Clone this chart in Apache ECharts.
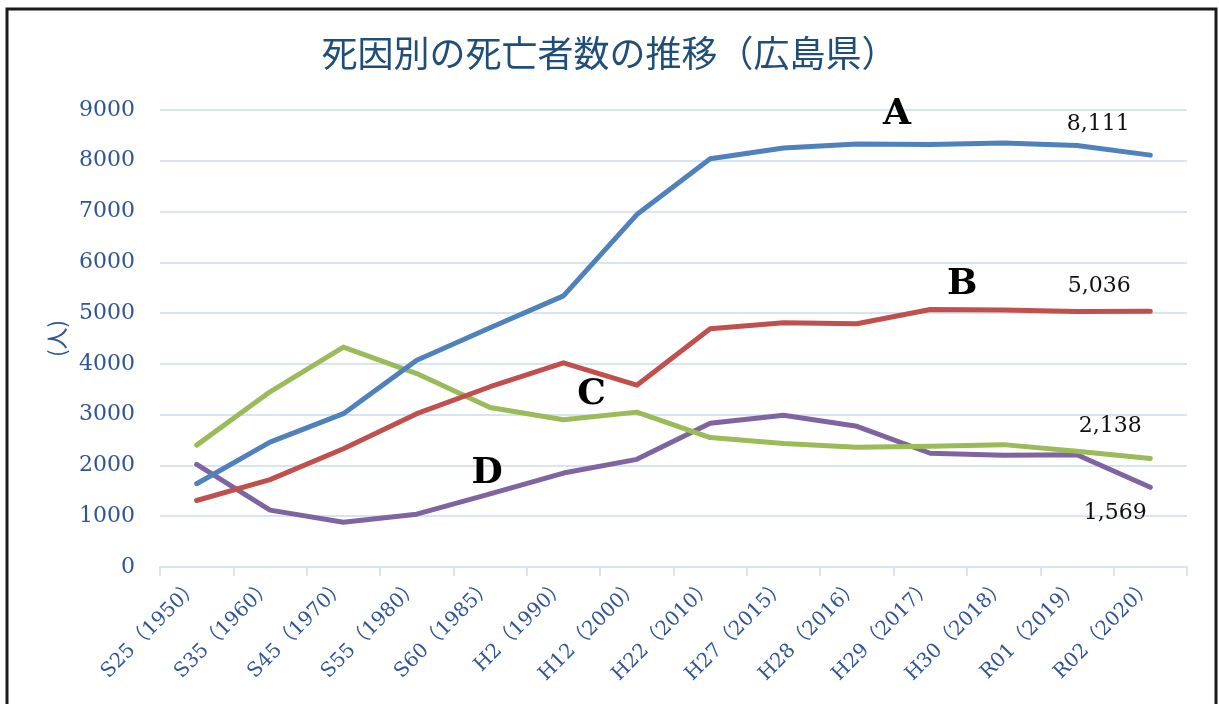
<!DOCTYPE html>
<html>
<head>
<meta charset="utf-8">
<script src="https://cdn.jsdelivr.net/npm/echarts@6/dist/echarts.min.js"></script>
<style>
html,body{margin:0;padding:0;background:#fff;}
#chart{width:1219px;height:704px;}
</style>
</head>
<body>
<div id="chart"></div>
<script>
const categories = ['S25（1950）','S35（1960）','S45（1970）','S55（1980）','S60（1985）','H2（1990）','H12（2000）','H22（2010）','H27（2015）','H28（2016）','H29（2017）','H30（2018）','R01（2019）','R02（2020）'];
const seriesA = [1640, 2460, 3020, 4070, 4710, 5340, 6940, 8040, 8250, 8330, 8320, 8350, 8300, 8111];
const seriesB = [1310, 1720, 2330, 3020, 3550, 4020, 3580, 4690, 4810, 4790, 5070, 5060, 5030, 5036];
const seriesC = [2400, 3450, 4330, 3810, 3140, 2900, 3050, 2550, 2430, 2360, 2380, 2410, 2280, 2138];
const seriesD = [2020, 1120, 880, 1040, 1440, 1850, 2120, 2830, 2990, 2770, 2240, 2200, 2210, 1569];
const yTicks = [0,1000,2000,3000,4000,5000,6000,7000,8000,9000];
const seriesNames = ['A','B','C','D'];
const endLabels = ['8,111','5,036','2,138','1,569'];
// annotation anchor points: [category index, value]
const letterAnchors = [[9, 8900], [10, 5560], [5, 3390], [4, 1840]];

const serif = '"DejaVu Serif", "Liberation Serif", serif';
const tickColor = '#2f5597';
const gridColor = '#d9e4f3';
const colors = ['#4f81bd','#c0504d','#9bbb59','#8064a2'];
const letterOffsets = [[40,0],[32,0],[28,0],[-3,0]];
const endOffsets = [[-52,-31],[-51,-25],[-40,-32],[-35,26]];

const allData = [seriesA, seriesB, seriesC, seriesD];

function buildSeries(i){
  const vals = allData[i];
  const last = vals.length - 1;
  return {
    name: seriesNames[i],
    type: 'line',
    data: vals,
    symbol: 'none',
    lineStyle: { width: 5, color: colors[i], cap: 'round', join: 'round' },
    itemStyle: { color: colors[i] },
    z: 3 + (3 - i),
    markPoint: {
      symbol: 'circle', symbolSize: 0,
      data: [{
        coord: letterAnchors[i],
        label: {
          show: true, position: 'inside', offset: letterOffsets[i],
          formatter: seriesNames[i],
          fontFamily: serif, fontSize: 36, fontWeight: 'bold', color: '#000'
        }
      }, {
        coord: [last, vals[last]],
        label: {
          show: true, position: 'inside', offset: endOffsets[i],
          formatter: endLabels[i],
          fontFamily: serif, fontSize: 22, color: '#111'
        }
      }]
    }
  };
}

const chart = echarts.init(document.getElementById('chart'), null, {renderer: 'canvas'});
chart.setOption({
  backgroundColor: '#fff',
  animation: false,
  title: {
    text: '死因別の死亡者数の推移（広島県）',
    left: 'center', top: 30,
    textStyle: { fontFamily: '"Noto Sans CJK JP", sans-serif', fontSize: 36, fontWeight: 'normal', color: '#1f4e79' }
  },
  grid: { left: 160, right: 32, top: 110, bottom: 137 },
  xAxis: {
    type: 'category',
    data: categories,
    boundaryGap: true,
    axisLine: { lineStyle: { color: gridColor, width: 2 } },
    axisTick: { show: true, length: 9, alignWithLabel: false, lineStyle: { color: gridColor, width: 2 } },
    axisLabel: {
      rotate: 45, margin: 16, interval: 0,
      fontFamily: '"DejaVu Serif", "Noto Sans CJK JP", serif',
      fontSize: 20, color: tickColor
    }
  },
  yAxis: {
    type: 'value',
    min: yTicks[0], max: yTicks[yTicks.length - 1], interval: 1000,
    name: '(人)',
    nameLocation: 'middle', nameGap: 92, nameRotate: 90,
    nameTextStyle: { fontFamily: '"Noto Sans CJK JP", sans-serif', fontSize: 22, color: '#2f5597' },
    axisLine: { show: false },
    axisTick: { show: false },
    splitLine: { lineStyle: { color: gridColor, width: 2 } },
    axisLabel: { margin: 25, fontFamily: serif, fontSize: 22, color: tickColor, formatter: v => String(v) }
  },
  graphic: [{
    type: 'rect', silent: true,
    shape: { x: 7, y: 9, width: 1209, height: 720 },
    style: { fill: 'none', stroke: '#1a1a1a', lineWidth: 3 }
  }],
  series: [0,1,2,3].map(buildSeries)
});
</script>
</body>
</html>
